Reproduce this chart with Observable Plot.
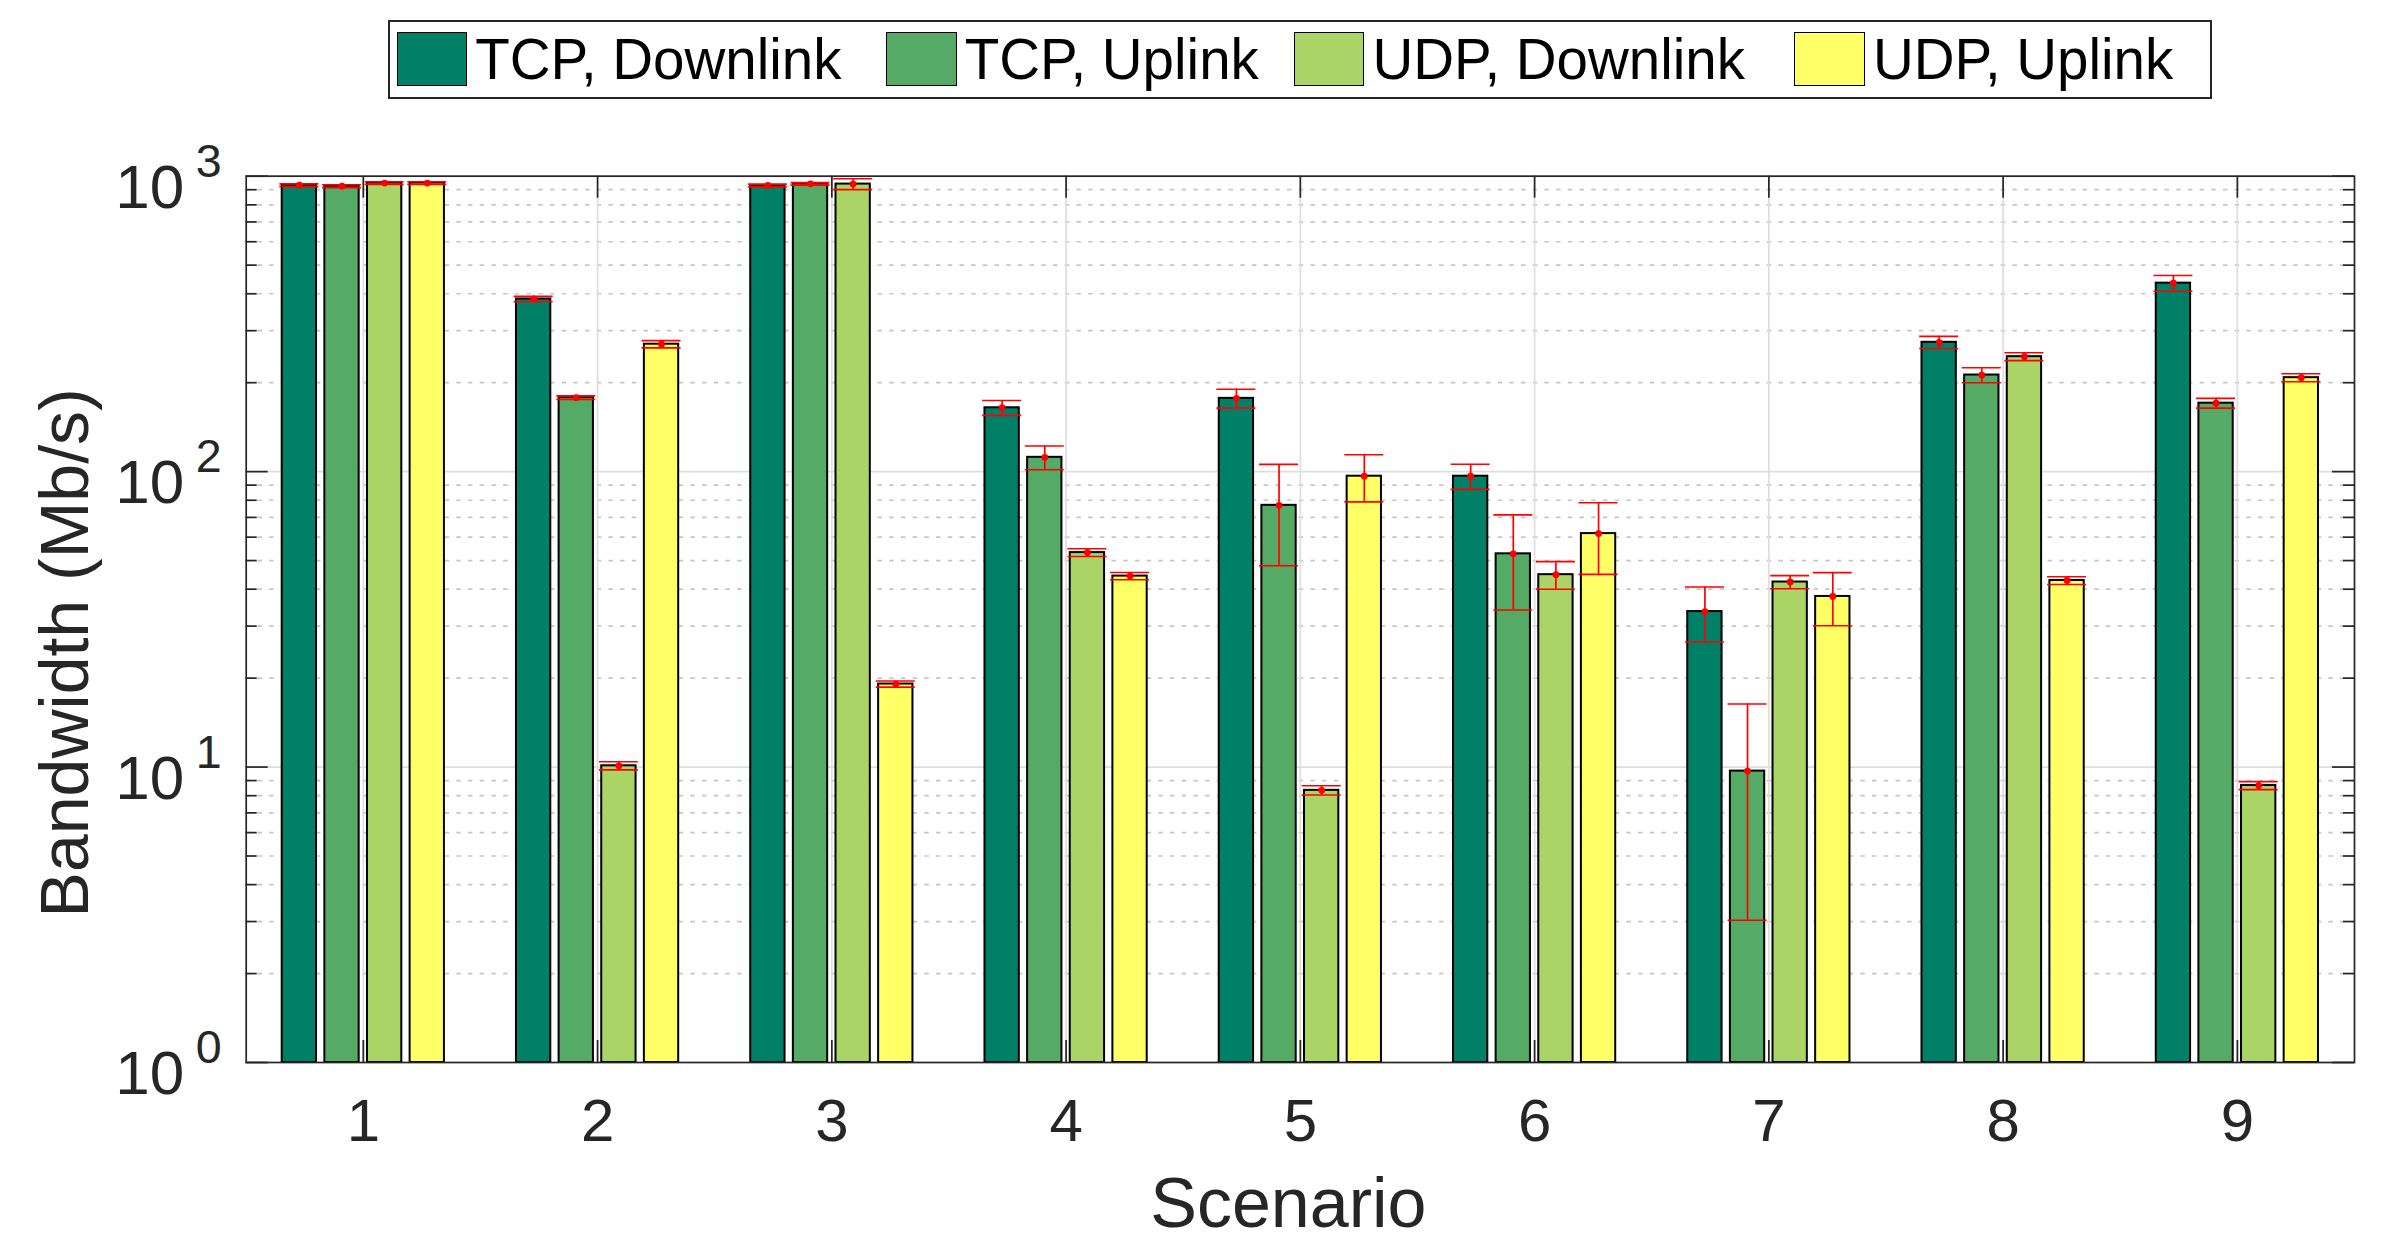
<!DOCTYPE html>
<html><head><meta charset="utf-8">
<script src="https://cdn.jsdelivr.net/npm/d3@7"></script>
<script src="https://cdn.jsdelivr.net/npm/@observablehq/plot@0.6"></script>
<style>
html,body{margin:0;padding:0;background:#fff;}
#wrap{position:relative;width:2386px;height:1248px;font-family:"Liberation Sans",Arial,Helvetica,sans-serif;}
#wrap svg{position:absolute;left:0;top:0;}
#legend{position:absolute;left:388px;top:20px;width:1824px;height:79px;border:2px solid #262626;box-sizing:border-box;background:#fff;}
.sw{position:absolute;top:31.7px;width:70.6px;height:54.6px;border:1.5px solid #000;box-sizing:border-box;}
.lt{position:absolute;top:31.75px;font-size:56.5px;line-height:56.5px;color:#000;white-space:nowrap;}
</style></head><body><div id="wrap"></div>
<script>
// ---- data ----
const scenarios = [1, 2, 3, 4, 5, 6, 7, 8, 9];
const xTickLabels = ["1", "2", "3", "4", "5", "6", "7", "8", "9"];
const yTickValues = [1, 10, 100, 1000];
const yTickExponents = ["0", "1", "2", "3"];
const seriesNames = ["TCP, Downlink", "TCP, Uplink", "UDP, Downlink", "UDP, Uplink"];

const tcpDown    = [932, 384, 930, 164.5, 177, 96.5, 33.6, 274, 434.5];
const tcpDownErr = [10, 8, 10, 9.5, 13, 9.4, 7.1, 13, 26.5];
const tcpUp      = [925, 178, 942, 111.8, 76.9, 52.7, 9.69, 212.3, 170.5];
const tcpUpErr   = [10, 2.5, 9, 10.3, 28.9, 18.7, 6.66, 12.3, 6.5];
const udpDown    = [948, 10.1, 940.5, 53.2, 8.34, 44.8, 42.3, 245, 8.66];
const udpDownErr = [10, 0.32, 39.5, 1.6, 0.3, 4.8, 2.15, 7.5, 0.27];
const udpUp      = [948, 270, 19.1, 44.3, 96.5, 61.7, 37.8, 42.8, 208];
const udpUpErr   = [10, 7.7, 0.45, 1.25, 17.5, 16.8, 7.7, 1.3, 6.5];

// ---- styles ----
const colors = ["#008066", "#55aa66", "#aad466", "#ffff66"];
const ink = "#262626";

const seriesValues = [tcpDown, tcpUp, udpDown, udpUp];
const seriesErrs = [tcpDownErr, tcpUpErr, udpDownErr, udpUpErr];

// table built from the arrays
const rows = [];
seriesNames.forEach((s, k) => {
  scenarios.forEach((sc, i) => {
    rows.push({scenario: sc, series: s, k, value: seriesValues[k][i], err: seriesErrs[k][i]});
  });
});
const minorTicks = [];
[1, 10, 100].forEach(d => { for (let m = 2; m <= 9; m++) minorTicks.push(m * d); });

// layout
const W = 2386, H = 1248;
const mTop = 175.7, mBottom = 186, mLeft = 245.7, mRight = 32;
const innerW = W - mLeft - mRight, innerH = H - mTop - mBottom;
const step = 0.182, barW = 0.1465, capW = 0.1665;
const cx = d => d.scenario + (d.k - 1.5) * step;
const font = "Liberation Sans, Arial, Helvetica, sans-serif";

const chart = Plot.plot({
  width: W, height: H,
  marginTop: mTop, marginBottom: mBottom, marginLeft: mLeft, marginRight: mRight,
  style: {fontFamily: font, background: "white", overflow: "visible"},
  x: {type: "linear", domain: [0.5, 9.5], axis: null},
  y: {type: "log", domain: [1, 1000], axis: null},
  color: {domain: seriesNames, range: colors},
  marks: [
    // grid
    Plot.ruleY(minorTicks, {y: d => d, stroke: "#c6c6c6", strokeWidth: 1.7, strokeDasharray: "4.5,7.2"}),
    Plot.ruleY(yTickValues, {y: d => d, stroke: "#dedede", strokeWidth: 1.7}),
    Plot.ruleX(scenarios, {x: d => d, stroke: "#dedede", strokeWidth: 1.7}),
    // bars
    Plot.rect(rows, {
      x1: d => cx(d) - barW / 2, x2: d => cx(d) + barW / 2,
      y1: 1, y2: d => d.value,
      fill: d => d.series, stroke: "#000", strokeWidth: 2
    }),
    // error bars
    Plot.ruleX(rows, {x: cx, y1: d => d.value - d.err, y2: d => d.value + d.err, stroke: "#ff0000", strokeWidth: 1.7}),
    Plot.ruleY(rows, {y: d => d.value - d.err, x1: d => cx(d) - capW / 2, x2: d => cx(d) + capW / 2, stroke: "#ff0000", strokeWidth: 1.6}),
    Plot.ruleY(rows, {y: d => d.value + d.err, x1: d => cx(d) - capW / 2, x2: d => cx(d) + capW / 2, stroke: "#ff0000", strokeWidth: 1.6}),
    Plot.dot(rows, {x: cx, y: d => d.value, r: 3.4, fill: "#ff0000", stroke: "none"}),
    // frame and ticks
    Plot.frame({stroke: ink, strokeWidth: 1.7}),
    Plot.tickY(minorTicks, {y: d => d, insetRight: innerW - 11, stroke: ink, strokeWidth: 1.7}),
    Plot.tickY(minorTicks, {y: d => d, insetLeft: innerW - 11, stroke: ink, strokeWidth: 1.7}),
    Plot.tickY(yTickValues, {y: d => d, insetRight: innerW - 22, stroke: ink, strokeWidth: 1.7}),
    Plot.tickY(yTickValues, {y: d => d, insetLeft: innerW - 22, stroke: ink, strokeWidth: 1.7}),
    Plot.tickX(scenarios, {x: d => d, insetTop: innerH - 22, stroke: ink, strokeWidth: 1.7}),
    Plot.tickX(scenarios, {x: d => d, insetBottom: innerH - 22, stroke: ink, strokeWidth: 1.7}),
    // y tick labels 10^n
    Plot.text(yTickValues, {y: d => d, frameAnchor: "left", text: () => "10", textAnchor: "end", lineAnchor: "bottom",
      dx: -62, dy: 31.5, fontSize: 62, fill: ink, fontFamily: font}),
    Plot.text(yTickValues, {y: d => d, frameAnchor: "left", text: (d, i) => yTickExponents[i], textAnchor: "start", lineAnchor: "bottom",
      dx: -50.5, dy: 0.5, fontSize: 46.6, fill: ink, fontFamily: font}),
    // x tick labels
    Plot.text(scenarios, {x: d => d, frameAnchor: "bottom", text: (d, i) => xTickLabels[i], textAnchor: "middle", lineAnchor: "bottom",
      dy: 78.7, fontSize: 60, fill: ink, fontFamily: font}),
    // axis titles
    Plot.text(["Scenario"], {frameAnchor: "bottom", text: d => d, textAnchor: "middle", lineAnchor: "bottom", dx: -12, dy: 164.3,
      fontSize: 70, fill: ink, fontFamily: font}),
    Plot.text(["Bandwidth (Mb/s)"], {frameAnchor: "left", text: d => d, rotate: -90, textAnchor: "middle", lineAnchor: "bottom",
      dx: -158.7, dy: 33.5, fontSize: 68, fill: ink, fontFamily: font})
  ]
});

const wrap = document.getElementById("wrap");
wrap.appendChild(chart);

// legend (HTML, above the plot area)
const legend = document.createElement("div");
legend.id = "legend";
wrap.appendChild(legend);
const legendX = [396.7, 886.2, 1293.9, 1794.4];
seriesNames.forEach((s, k) => {
  const sw = document.createElement("div");
  sw.className = "sw";
  sw.style.left = legendX[k] + "px";
  sw.style.background = colors[k];
  wrap.appendChild(sw);
  const t = document.createElement("div");
  t.className = "lt";
  t.style.left = (legendX[k] + 78.5) + "px";
  t.textContent = s;
  wrap.appendChild(t);
});
</script>
</body></html>
